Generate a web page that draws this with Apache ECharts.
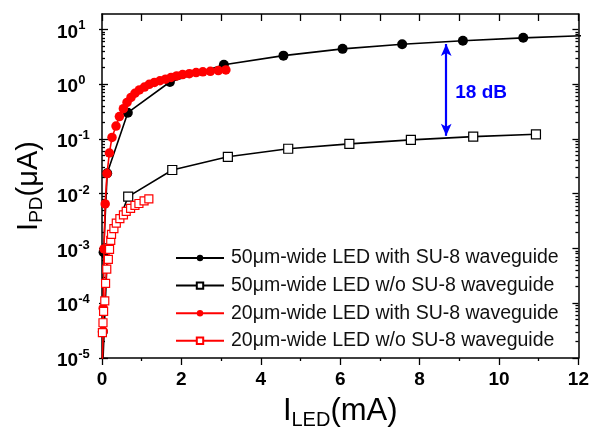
<!DOCTYPE html>
<html>
<head>
<meta charset="utf-8">
<script src="https://cdn.jsdelivr.net/npm/echarts@6/dist/echarts.min.js"></script>
<style>
  html, body { margin: 0; padding: 0; background: #fff; }
  #chart { width: 592px; height: 435px; }
</style>
</head>
<body>
<div id="chart"></div>
<script>
// Photocurrent (uA) vs LED drive current (mA), [I_LED, I_PD] pairs
const led50With = [
  [0.02, 3.0e-5], [0.04, 8.5e-4], [0.13, 0.0235], [0.65, 0.30], [1.71, 1.09],
  [3.07, 2.25], [4.57, 3.3], [6.06, 4.39], [7.56, 5.32], [9.09, 6.17],
  [10.61, 6.98], [12.13, 7.64]
];
const led50Without = [
  [0.01, 5e-6], [0.14, 1.0e-3], [0.66, 0.0088], [1.77, 0.027], [3.17, 0.047],
  [4.69, 0.066], [6.23, 0.081], [7.78, 0.0957], [9.35, 0.110], [10.93, 0.121]
];
const led20With = [
  [0.0, 5e-6], [0.03, 3.1e-5], [0.03, 8.1e-5], [0.05, 9.8e-4], [0.08, 6.5e-3],
  [0.126, 0.0232], [0.186, 0.0552], [0.252, 0.106], [0.353, 0.171], [0.438, 0.255],
  [0.539, 0.356], [0.63, 0.463], [0.73, 0.569], [0.83, 0.68], [0.94, 0.78],
  [1.07, 0.88], [1.19, 0.99], [1.32, 1.07], [1.46, 1.15], [1.60, 1.23],
  [1.74, 1.32], [1.88, 1.41], [2.03, 1.49], [2.20, 1.55], [2.37, 1.62],
  [2.54, 1.67], [2.73, 1.71], [2.93, 1.76], [3.12, 1.81]
];
const led20Without = [
  [0.01, 2.9e-5], [0.025, 4.4e-5], [0.04, 7.1e-5], [0.07, 1.1e-4], [0.09, 2.3e-4],
  [0.12, 4.2e-4], [0.16, 6.3e-4], [0.19, 9.6e-4], [0.22, 1.4e-3], [0.24, 1.8e-3],
  [0.30, 2.3e-3], [0.36, 2.9e-3], [0.45, 3.5e-3], [0.54, 4.1e-3], [0.61, 4.75e-3],
  [0.72, 5.4e-3], [0.83, 6.1e-3], [0.93, 6.6e-3], [1.06, 7.4e-3], [1.18, 8.0e-3]
];
const seriesNames = [
  '50μm-wide LED with SU-8 waveguide',
  '50μm-wide LED w/o SU-8 waveguide',
  '20μm-wide LED with SU-8 waveguide',
  '20μm-wide LED w/o SU-8 waveguide'
];
// double arrow between the two 50 um curves and its caption
const gapArrow = [[8.67, 5.38], [8.67, 0.1135]];
const gapText = '18 dB';

// axis ranges and tick values
const xRange = [0, 12];
const yRange = [1e-5, 19];
const decadeTicks = [1e-5, 1e-4, 1e-3, 1e-2, 1e-1, 1, 10];
const minorLogTicks = [];
for (let e = -5; e <= 0; e++) {
  for (let m = 2; m <= 9; m++) minorLogTicks.push(m * Math.pow(10, e));
}

const FONT = "'Liberation Sans', Arial, sans-serif";
const INK = '#000';

function yAxisBase(extra) {
  return Object.assign({
    type: 'log', logBase: 10, min: yRange[0], max: yRange[1],
    splitLine: { show: false },
    axisLine: { show: false },
    axisLabel: { show: false },
    axisTick: { show: false }
  }, extra);
}
function tickSet(values, len, inside) {
  return { show: true, customValues: values, length: len, inside: inside,
           lineStyle: { color: INK, width: 1.3 } };
}

const chart = echarts.init(document.getElementById('chart'), null, { renderer: 'canvas' });

const option = {
  animation: false,
  backgroundColor: '#fff',
  grid: { left: 102, right: 13, top: 14, bottom: 71, containLabel: false },
  legend: {
    orient: 'vertical', left: 170, top: 243, padding: 5,
    itemWidth: 48, itemHeight: 8, itemGap: 7.6,
    textStyle: { fontFamily: FONT, fontSize: 19.5, color: '#111', lineHeight: 20, padding: [0, 0, 0, 2] },
    data: seriesNames
  },
  xAxis: [
    {
      type: 'value', position: 'bottom', min: xRange[0], max: xRange[1], interval: 2,
      axisLine: { show: true, onZero: false, lineStyle: { color: INK, width: 1.5 } },
      axisTick: { show: true, inside: false, length: 7, lineStyle: { color: INK, width: 1.3 } },
      minorTick: { show: true, splitNumber: 2, length: 3, lineStyle: { color: INK, width: 1.3 } },
      axisLabel: { margin: 12, fontFamily: FONT, fontSize: 19, fontWeight: 'bold', color: INK },
      splitLine: { show: false },
      name: '{m|I}{sub|LED}{m|(mA)}',
      nameLocation: 'middle', nameGap: 38,
      nameTextStyle: {
        fontFamily: FONT, color: INK,
        rich: {
          m: { fontFamily: FONT, fontSize: 31, color: INK, lineHeight: 34, verticalAlign: 'top' },
          sub: { fontFamily: FONT, fontSize: 20, color: INK, lineHeight: 20, verticalAlign: 'bottom', padding: [14, 0, 0, 0] }
        }
      }
    },
    {
      type: 'value', position: 'top', min: xRange[0], max: xRange[1], interval: 2,
      axisLine: { show: true, onZero: false, lineStyle: { color: INK, width: 1.5 } },
      axisTick: { show: true, inside: true, length: 7, lineStyle: { color: INK, width: 1.3 } },
      minorTick: { show: true, splitNumber: 2, length: 7, lineStyle: { color: INK, width: 1.3 } },
      axisLabel: { show: false },
      splitLine: { show: false }
    }
  ],
  yAxis: [
    yAxisBase({
      position: 'left',
      axisLine: { show: true, onZero: false, lineStyle: { color: INK, width: 1.5 } },
      axisTick: tickSet(decadeTicks, 6, true),
      axisLabel: {
        show: true, customValues: decadeTicks, margin: 45, align: 'left',
        formatter: function (v) {
          return '{b|10}{s|' + Math.round(Math.log10(v)) + '}';
        },
        rich: {
          b: { fontFamily: FONT, fontSize: 19, fontWeight: 'bold', color: INK, lineHeight: 20, verticalAlign: 'middle', padding: [6, 0, 0, 0] },
          s: { fontFamily: FONT, fontSize: 13, fontWeight: 'bold', color: INK, lineHeight: 13, verticalAlign: 'top' }
        }
      },
      name: '{m|I}{sub|PD}{m|(μA)}',
      nameLocation: 'middle', nameRotate: 90, nameGap: 55,
      nameTextStyle: {
        fontFamily: FONT, color: INK,
        rich: {
          m: { fontFamily: FONT, fontSize: 29, color: INK, lineHeight: 32, verticalAlign: 'top' },
          sub: { fontFamily: FONT, fontSize: 19, color: INK, lineHeight: 19, verticalAlign: 'bottom', padding: [12, 0, 0, 0] }
        }
      }
    }),
    yAxisBase({ position: 'left', axisTick: tickSet(decadeTicks, 3, false) }),
    yAxisBase({ position: 'left', axisTick: tickSet(minorLogTicks, 3, true) }),
    yAxisBase({
      position: 'right',
      axisLine: { show: true, onZero: false, lineStyle: { color: INK, width: 1.5 } },
      axisTick: tickSet(decadeTicks, 6, true)
    }),
    yAxisBase({ position: 'right', axisTick: tickSet(minorLogTicks, 3, true) })
  ],
  series: [
    {
      name: seriesNames[0], type: 'line', data: led50With,
      xAxisIndex: 0, yAxisIndex: 0, clip: true,
      symbol: 'circle', symbolSize: 10,
      itemStyle: { color: '#000' },
      lineStyle: { color: '#000', width: 1.6 },
      z: 2,
      markLine: {
        silent: true, animation: false,
        symbol: ['arrow', 'arrow'], symbolSize: [8, 12],
        label: { show: false },
        lineStyle: { color: '#0000ff', width: 2.2, type: 'solid' },
        data: [[{ coord: gapArrow[0] }, { coord: gapArrow[1] }]]
      }
    },
    {
      name: seriesNames[1], type: 'line', data: led50Without,
      xAxisIndex: 0, yAxisIndex: 0, clip: true,
      symbol: 'rect', symbolSize: 9,
      itemStyle: { color: '#fff', borderColor: '#000', borderWidth: 1.2 },
      lineStyle: { color: '#000', width: 1.6 },
      z: 2
    },
    {
      name: seriesNames[2], type: 'line', data: led20With,
      xAxisIndex: 0, yAxisIndex: 0, clip: true,
      symbol: 'circle', symbolSize: 9.5,
      itemStyle: { color: '#ff0000' },
      lineStyle: { color: '#ff0000', width: 1.6 },
      z: 3
    },
    {
      name: seriesNames[3], type: 'line', data: led20Without,
      xAxisIndex: 0, yAxisIndex: 0, clip: true,
      symbol: 'rect', symbolSize: 8,
      itemStyle: { color: '#fff', borderColor: '#ff0000', borderWidth: 1.2 },
      lineStyle: { color: '#ff0000', width: 1.6 },
      z: 3
    }
  ]
};
chart.setOption(option);

// caption beside the arrow, placed from data coordinates
const mid = chart.convertToPixel({ xAxisIndex: 0, yAxisIndex: 0 }, [gapArrow[0][0], Math.sqrt(gapArrow[0][1] * gapArrow[1][1])]);
chart.setOption({
  graphic: [{
    type: 'text', left: mid[0] + 9, top: mid[1] - 7, silent: true,
    style: { text: gapText, fill: '#0000ff', font: "bold 19px 'Liberation Sans', Arial, sans-serif" }
  }]
});
</script>
</body>
</html>
